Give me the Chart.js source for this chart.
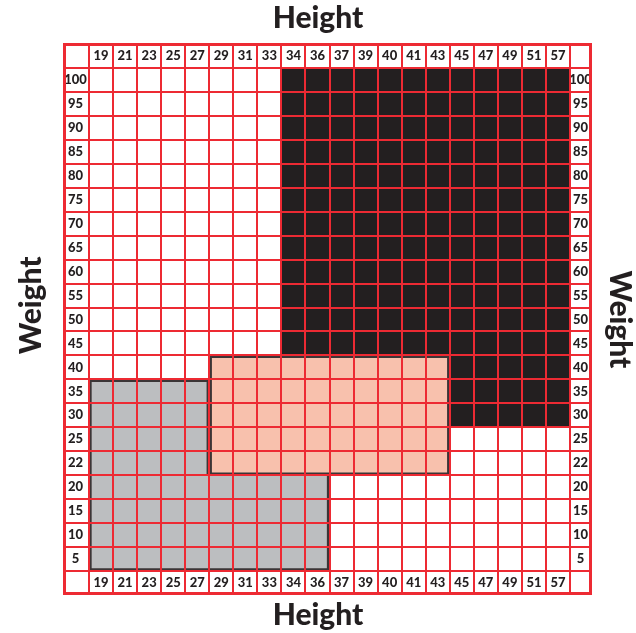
<!DOCTYPE html>
<html>
<head>
<meta charset="utf-8">
<script src="https://cdn.jsdelivr.net/npm/chart.js@4.4.1/dist/chart.umd.min.js"></script>
<style>
  html, body { margin: 0; padding: 0; background: #fff; overflow: hidden; }
  #wrap { width: 636px; height: 633px; }
</style>
</head>
<body>
<div id="wrap"><canvas id="chart"></canvas></div>
<script>
const heights = ['19', '21', '23', '25', '27', '29', '31', '33', '34', '36', '37', '39', '40', '41', '43', '45', '47', '49', '51', '57'];
const weights = ['100', '95', '90', '85', '80', '75', '70', '65', '60', '55', '50', '45', '40', '35', '30', '25', '22', '20', '15', '10', '5'];

// zones: [height from, height to, weight from, weight to]
const blackZones = [['34', '43', '45', '100'], ['45', '57', '30', '100']];
const peachZones = [['29', '43', '22', '40']];
const greyZones = [['19', '36', '5', '20'], ['19', '27', '22', '35']];

const red = '#ed2a33';
const ink = '#231f20';
const edge = '#3b3536';

Chart.defaults.font.family = 'Lato, "Open Sans", sans-serif';
Chart.defaults.font.weight = 'bold';
Chart.defaults.color = ink;

// one floating bar per height column, spanning the zone's weight rows
function zoneData(zone) {
  const [hFrom, hTo, wFrom, wTo] = zone;
  const a = heights.indexOf(hFrom), b = heights.indexOf(hTo);
  const n = weights.length;
  return heights.map((h, i) =>
    i >= a && i <= b ? [n - 1 - weights.indexOf(wFrom), n - weights.indexOf(wTo)] : null);
}

function zoneDataset(zone, color, sides) {
  const a = heights.indexOf(zone[0]), b = heights.indexOf(zone[1]);
  return {
    data: zoneData(zone),
    backgroundColor: color,
    borderColor: edge,
    borderSkipped: false,
    borderWidth: (ctx) => ({
      left: sides.left && ctx.dataIndex === a ? 3 : 0,
      right: sides.right && ctx.dataIndex === b ? 3 : 0,
      top: sides.top ? 3 : 0,
      bottom: sides.bottom ? 3 : 0
    }),
    xAxisID: 'x',
    yAxisID: 'v'
  };
}

const all = { left: true, right: true, top: true, bottom: true };
const none = { left: false, right: false, top: false, bottom: false };

const datasets = [
  ...peachZones.map(z => zoneDataset(z, '#f8c1ad', all)),
  zoneDataset(greyZones[0], '#bcbec0', { left: true, right: true, top: false, bottom: true }),
  zoneDataset(greyZones[1], '#bcbec0', { left: true, right: true, top: true, bottom: false }),
  ...blackZones.map(z => zoneDataset(z, ink, none))
];

const tickFont = { size: 13, weight: 900 };
const titleFont = { size: 30, weight: 900 };

function gridOpts(len, onArea) {
  return {
    offset: true,
    color: red,
    lineWidth: 2,
    tickColor: red,
    tickWidth: 2,
    tickLength: len,
    drawOnChartArea: onArea,
    z: 1
  };
}

const framePlugin = {
  id: 'frame',
  afterDraw(chart) {
    const { ctx, chartArea: a } = chart;
    ctx.save();
    ctx.strokeStyle = red;
    ctx.lineWidth = 3;
    ctx.strokeRect(a.left - 24.5, a.top - 23.5, (a.right + 20.5) - (a.left - 24.5), (a.bottom + 22.5) - (a.top - 23.5));
    ctx.restore();
  }
};

new Chart(document.getElementById('chart'), {
  type: 'bar',
  data: { labels: heights, datasets: datasets },
  options: {
    responsive: true,
    maintainAspectRatio: false,
    animation: false,
    grouped: false,
    barPercentage: 1,
    categoryPercentage: 1,
    layout: { padding: 0 },
    plugins: {
      legend: { display: false },
      tooltip: { enabled: false },
      title: { display: true, text: 'Height', color: ink, font: titleFont, padding: { top: 0, bottom: 8 } },
      subtitle: { display: true, position: 'bottom', text: 'Height', color: ink, font: titleFont, padding: { top: 3, bottom: 0 } }
    },
    scales: {
      x: {
        type: 'category', position: 'bottom', offset: true,
        grid: gridOpts(23, true),
        border: { color: red, width: 2, z: 1 },
        ticks: { padding: -18.8, font: tickFont, autoSkip: false, maxRotation: 0 },
        afterFit: (s) => { s.height = 23; }
      },
      x2: {
        type: 'category', position: 'top', labels: heights, offset: true,
        grid: gridOpts(24, false),
        border: { display: false },
        ticks: { padding: -19.8, font: tickFont, autoSkip: false, maxRotation: 0 },
        afterFit: (s) => { s.height = 24; }
      },
      v: { type: 'linear', display: false, min: 0, max: weights.length },
      yl: {
        type: 'category', position: 'left', labels: weights, offset: true,
        grid: gridOpts(25, true),
        border: { color: red, width: 2, z: 1 },
        ticks: { padding: -22.8, crossAlign: 'center', font: tickFont, autoSkip: false },
        title: { display: true, text: '    Weight', color: ink, font: titleFont, padding: { top: 13, bottom: 0 } },
        afterFit: (s) => { s.width = 89; }
      },
      yr: {
        type: 'category', position: 'right', labels: weights, offset: true,
        grid: gridOpts(21, false),
        border: { display: false },
        ticks: { padding: -21.8, crossAlign: 'center', font: tickFont, autoSkip: false },
        title: { display: true, text: 'Weight', color: ink, font: titleFont, padding: { top: -1.8, bottom: 0 } },
        afterFit: (s) => { s.width = 66; }
      }
    }
  },
  plugins: [framePlugin]
});
</script>
</body>
</html>
